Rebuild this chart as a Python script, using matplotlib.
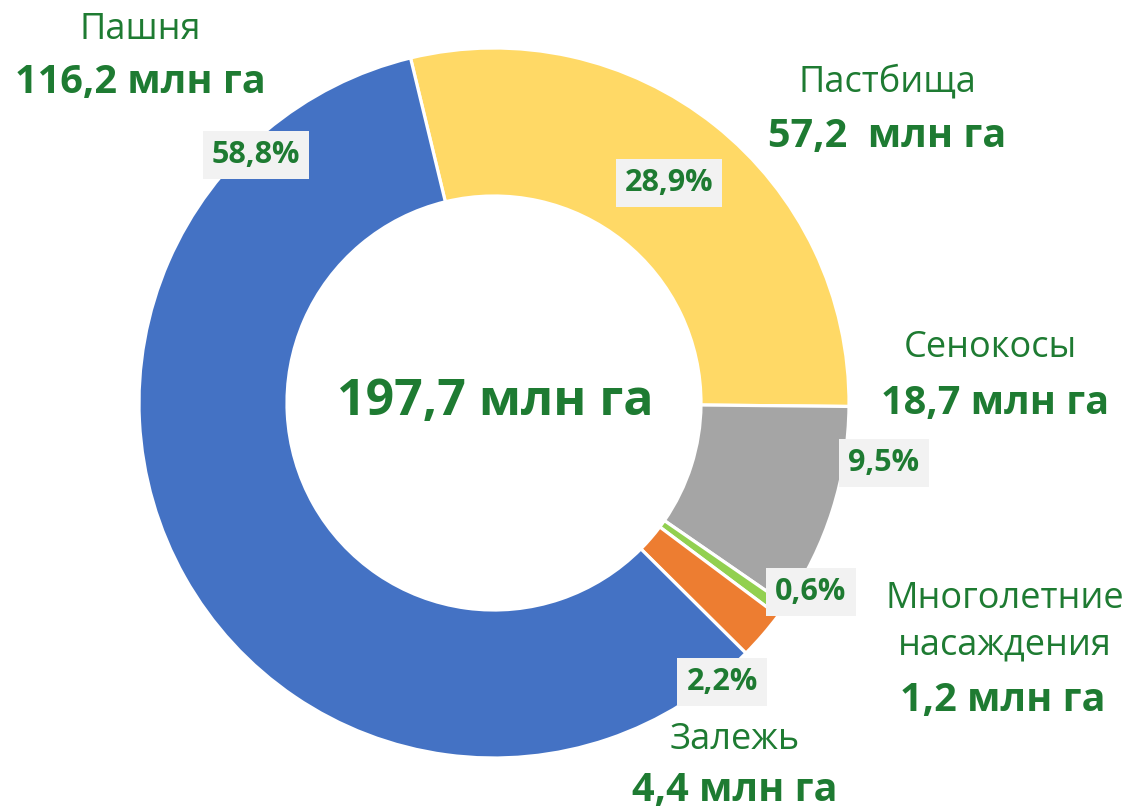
import matplotlib.pyplot as plt

# land categories, clockwise from the top
names = ['Пастбища', 'Сенокосы', 'Многолетние\nнасаждения', 'Залежь', 'Пашня']
areas = [57.2, 18.7, 1.2, 4.4, 116.2]
area_labels = ['57,2  млн га', '18,7 млн га', '1,2 млн га', '4,4 млн га', '116,2 млн га']
total_label = '197,7 млн га'
colors = ['#FFD966', '#A5A5A5', '#92D050', '#ED7D31', '#4472C4']

W, H = 1136, 809
GREEN = '#1E7B32'
FONT = ['Open Sans', 'DejaVu Sans']


def px(x, y):
    return x / W, 1 - y / H


fig = plt.figure(figsize=(W / 100, H / 100), dpi=100)
ax = fig.add_axes([0, 0, 1, 1])

ax.pie(areas,
       colors=colors,
       startangle=103.6,
       counterclock=False,
       center=(494, H - 403),
       radius=355,
       wedgeprops=dict(width=148, edgecolor='white', linewidth=2.3))
ax.set_xlim(0, W)
ax.set_ylim(0, H)
ax.set_aspect('equal')
ax.axis('off')

# percentages in grey boxes
total = sum(areas)
pct_pos = [(669, 183), (884, 463), (811, 592), (722, 682), (256, 155)]
for v, (x, y) in zip(areas, pct_pos):
    txt = f'{v / total * 100:.1f}%'.replace('.', ',')
    fig.text(*px(x, y), txt, ha='center', va='center', fontsize=22,
             fontweight='bold', color=GREEN, family=FONT,
             bbox=dict(boxstyle='square,pad=0.3', fc='#F2F2F2', ec='none'))

# category names and areas
name_pos = [(887, 82), (990, 348), (1005, 622), (735, 740), (140, 30)]
value_pos = [(887, 137), (995, 403), (1003, 700), (735, 790), (140, 83)]
for n, (x, y) in zip(names, name_pos):
    fig.text(*px(x, y), n, ha='center', va='center', fontsize=26,
             color=GREEN, family=FONT, linespacing=1.4)
for a, (x, y) in zip(area_labels, value_pos):
    fig.text(*px(x, y), a, ha='center', va='center', fontsize=28.5,
             fontweight='bold', color=GREEN, family=FONT)

fig.text(*px(495, 402), total_label, ha='center', va='center', fontsize=36,
         fontweight='bold', color=GREEN, family=FONT)

fig.savefig('out.png', dpi=100)
